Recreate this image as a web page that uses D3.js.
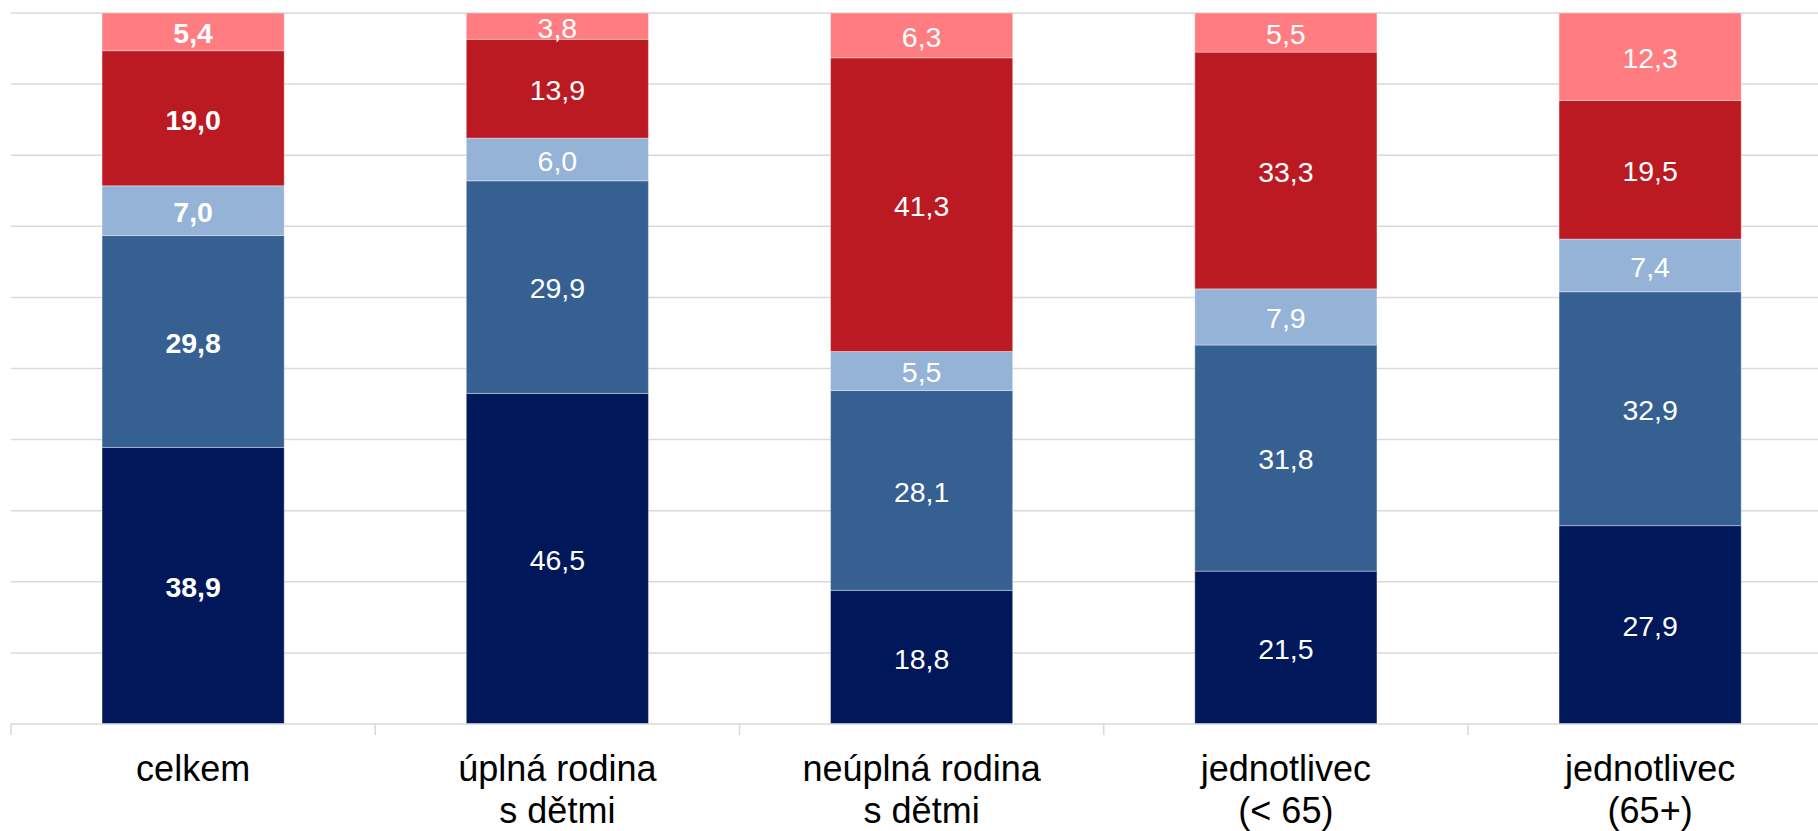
<!DOCTYPE html>
<html>
<head>
<meta charset="utf-8">
<script src="https://cdn.jsdelivr.net/npm/d3@7"></script>
<style>
  html, body { margin: 0; padding: 0; background: #fff; }
  svg { display: block; font-family: "Liberation Sans", Arial, sans-serif; }
</style>
</head>
<body>
<svg id="chart" width="1818" height="831"></svg>
<script>
// Categories (each may be multi-line)
const categories = ["celkem", "úplná rodina\ns dětmi", "neúplná rodina\ns dětmi", "jednotlivec\n(< 65)", "jednotlivec\n(65+)"];
// Series, bottom to top
const seriesNames = ["s1", "s2", "s3", "s4", "s5"];
const s1 = [38.9, 46.5, 18.8, 21.5, 27.9];
const s2 = [29.8, 29.9, 28.1, 31.8, 32.9];
const s3 = [7.0, 6.0, 5.5, 7.9, 7.4];
const s4 = [19.0, 13.9, 41.3, 33.3, 19.5];
const s5 = [5.4, 3.8, 6.3, 5.5, 12.3];
const seriesColors = ["#00175A", "#366092", "#95B3D7", "#BC1A22", "#FF7C80"];
const yTicks = [0, 10, 20, 30, 40, 50, 60, 70, 80, 90, 100];

const seriesValues = [s1, s2, s3, s4, s5];
const rows = categories.map((c, i) => {
  const r = { cat: c };
  seriesNames.forEach((s, k) => r[s] = seriesValues[k][i]);
  return r;
});

const svg = d3.select("#chart");
const plotLeft = 11, plotTop = 13, plotBottom = 724;
const step = 364.25;
const x = d3.scaleBand().domain(categories).range([plotLeft, plotLeft + step * categories.length]).paddingInner(0.5).paddingOuter(0.25);
const y = d3.scaleLinear().domain([0, 100]).range([plotBottom, plotTop]);

// gridlines
svg.append("g").selectAll("line").data(yTicks.filter(d => d > 0)).join("line")
  .attr("x1", plotLeft).attr("x2", 1818)
  .attr("y1", d => y(d)).attr("y2", d => y(d))
  .attr("stroke", "#d9d9d9").attr("stroke-width", 1.5);

// bars
const stack = d3.stack().keys(seriesNames)(rows);
const isBold = (i) => i === 0;
const g = svg.append("g");
stack.forEach((layer, k) => {
  g.append("g").selectAll("rect").data(layer).join("rect")
    .attr("x", d => x(d.data.cat))
    .attr("width", x.bandwidth())
    .attr("y", d => y(Math.min(d[1], 100)))
    .attr("height", d => y(d[0]) - y(Math.min(d[1], 100)))
    .attr("fill", seriesColors[k])
    .attr("stroke", "rgba(255,255,255,0.35)")
    .attr("stroke-width", 1);
});
stack.forEach((layer, k) => {
  g.append("g").selectAll("text").data(layer).join("text")
    .attr("x", d => x(d.data.cat) + x.bandwidth() / 2)
    .attr("y", d => (y(d[0]) + y(Math.min(d[1], 100))) / 2)
    .attr("dy", "0.4em")
    .attr("text-anchor", "middle")
    .attr("fill", "#ffffff")
    .attr("font-size", 28.5)
    .attr("font-weight", (d, i) => isBold(i) ? "bold" : "normal")
    .text(d => d3.format(".1f")(d[1] - d[0]).replace(".", ","));
});

// x axis
const axis = svg.append("g");
axis.append("line")
  .attr("x1", plotLeft).attr("x2", 1818).attr("y1", plotBottom).attr("y2", plotBottom)
  .attr("stroke", "#d9d9d9").attr("stroke-width", 1.5);
const bounds = d3.range(categories.length + 1).map(i => plotLeft + i * x.step());
axis.selectAll("line.tick").data(bounds).join("line").attr("class", "tick")
  .attr("x1", d => d).attr("x2", d => d)
  .attr("y1", plotBottom).attr("y2", plotBottom + 11)
  .attr("stroke", "#d9d9d9").attr("stroke-width", 1.5);

const labels = axis.selectAll("text").data(categories).join("text")
  .attr("x", d => x(d) + x.bandwidth() / 2)
  .attr("y", 781)
  .attr("text-anchor", "middle")
  .attr("font-size", 36)
  .attr("fill", "#000");
labels.each(function(d) {
  const t = d3.select(this);
  d.split("\n").forEach((line, i) => {
    t.append("tspan").attr("x", x(d) + x.bandwidth() / 2).attr("dy", i === 0 ? 0 : 41.5).text(line);
  });
});
</script>
</body>
</html>
